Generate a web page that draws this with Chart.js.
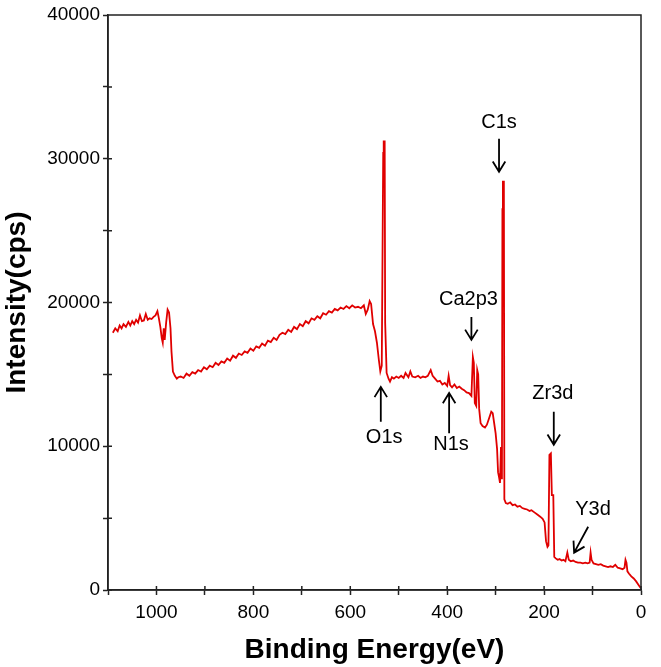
<!DOCTYPE html>
<html>
<head>
<meta charset="utf-8">
<script src="https://cdn.jsdelivr.net/npm/chart.js@4.4.0/dist/chart.umd.min.js"></script>
<style>
  body { margin: 0; background: #fff; }
  #grafica { display: block; }
</style>
</head>
<body>
<canvas id="grafica" width="661" height="667"></canvas>
<script>
// Espectro XPS: energía de enlace (eV) e intensidad (cps)
const energia = [
  1090, 1085, 1080, 1076, 1072, 1068, 1063, 1058, 1054, 1050, 1046, 1042, 1038, 1034, 1030, 1026,
  1022, 1018, 1014, 1010, 1006, 1002, 998, 995, 992, 989, 987, 985, 983, 980, 977, 974, 971, 969,
  966, 962, 958, 955,
  950, 944, 938, 932, 926, 920, 914, 908, 902, 896, 890, 884, 878, 872, 866, 860, 854, 848, 842,
  836, 830, 824, 818, 812, 806, 800, 794, 788, 782, 776, 770, 764, 758, 752, 746, 740, 734, 728,
  722, 716, 710, 704, 698, 692, 686, 680, 674, 668, 662, 656, 650, 644, 638, 632, 626, 620, 614,
  608, 602, 596, 590, 584, 578, 572, 568, 564, 560, 557, 553, 549, 545, 541, 538, 535, 532, 531,
  529, 528, 525, 521, 518,
  514, 510, 505, 500, 495, 490, 486, 480, 476, 472, 466, 460, 455, 450, 445, 440, 434, 430, 425,
  420, 415, 410, 405, 400, 397, 394, 390, 385, 380, 375, 370, 365, 360, 355, 350, 347, 345, 343,
  340, 338, 336, 334, 331, 327, 322, 318, 313, 309, 306, 303, 300, 297, 295, 293, 291, 289, 287,
  286, 285, 283, 282, 279,
  275, 270, 265, 260, 255, 250, 245, 240, 235, 230, 226, 220, 214, 208, 203, 199, 196, 193, 191,
  189, 186, 184, 181, 179, 176, 172, 168, 164, 160, 156, 152, 149, 145, 140, 135, 130, 125, 120,
  115, 110, 106, 104, 102, 98, 93, 88, 83, 78, 73, 68, 63, 58, 53, 48, 43, 38, 34, 32, 30, 28,
  25, 20, 15, 10, 5, 1
];
const intensidad = [
  17900, 18200, 18000, 18400, 18200, 18500, 18300, 18650, 18400, 18700, 18500, 18800, 18600, 19100, 18700, 18750,
  19200, 18800, 18900, 18850, 19000, 19100, 19400, 18900, 18300, 17500, 17200, 18200, 17400, 18600, 19500, 19300, 18200, 16600,
  15200, 14900, 14700, 14800,
  14850, 14750, 15050, 14900, 15150, 15050, 15300, 15200, 15500, 15350, 15600, 15500, 15800, 15650, 15900, 15800, 16100, 15950, 16300,
  16150, 16450, 16350, 16600, 16500, 16800, 16650, 16950, 16850, 17150, 17000, 17350, 17250, 17550, 17400, 17750, 17900, 17800, 18100,
  17950, 18300, 18150, 18500, 18350, 18700, 18550, 18900, 18800, 19050, 18900, 19250, 19150, 19400, 19300, 19550, 19450, 19650, 19550,
  19750, 19600, 19800, 19650, 19700, 19600, 19800, 19200, 19500, 20100, 19900, 18500, 18000, 17200, 16000, 15200, 15600, 30400, 31200,
  31200, 18600, 15100, 14700, 14500,
  14800, 14700, 14850, 14750, 14900, 14750, 15100, 14800, 15200, 14850, 14800, 14900, 14750, 14850, 14800, 14900, 15300, 14900, 14700,
  14500, 14550, 14300, 14400, 14200, 14900, 14250, 14100, 14300, 14050, 14150, 14000, 13900, 13750, 13700, 13500, 16200, 15800, 13000,
  12800, 15300, 15000, 12600, 11600, 11400, 11300, 11500, 12000, 12400, 12300, 11600, 10900, 9800, 8200, 7850, 7450, 9950, 7700,
  26500, 28400, 28400, 6300, 6050,
  6000, 6100, 5900, 5950, 5800, 5850, 5700, 5650, 5600, 5500, 5550, 5400, 5250, 5100, 4950, 4700, 3400, 3000, 3100,
  9400, 9500, 6600, 6600, 2300, 2200, 2100, 2150, 2050, 2100, 2000, 2600, 2100, 2000, 2050, 1950, 1900, 1900, 1850,
  1900, 1850, 1900, 2600, 2100, 1850, 1800, 1750, 1800, 1700, 1650, 1600, 1650, 1600, 1750, 1550, 1500, 1450, 1550, 2100, 1900, 1300,
  1150, 950, 800, 600, 350, 150
];

// Etiquetas de los picos (texto y posición en unidades de los ejes)
const picos = ['C1s', 'Ca2p3', 'O1s', 'N1s', 'Zr3d', 'Y3d'];
const picoE = [293, 356, 530, 392, 182, 99];
const picoI = [32500, 20200, 10600, 10100, 13700, 5570];
// Flechas: desde (E1, I1) hasta la punta (E2, I2)
const flechaE1 = [293, 350, 537, 396, 180, 109];
const flechaI1 = [31400, 19000, 11700, 10900, 12400, 4400];
const flechaE2 = [293, 350, 537, 396, 180, 138];
const flechaI2 = [29100, 17400, 14130, 13700, 10100, 2600];

const fuente = "'Liberation Sans', Arial, sans-serif";
const colorEje = '#222';

// Marco completo, marcas hacia dentro y anotaciones
const pluginExtras = {
  id: 'extras',
  afterDraw(chart) {
    const { ctx, chartArea, scales: { x, y } } = chart;
    ctx.save();
    ctx.strokeStyle = colorEje;
    ctx.lineWidth = 1.5;
    ctx.strokeRect(chartArea.left, chartArea.top, chartArea.right - chartArea.left, chartArea.bottom - chartArea.top);

    // marcas hacia el interior
    ctx.beginPath();
    x.ticks.forEach(t => {
      if (t.value >= 1100) return;
      const px = x.getPixelForValue(t.value);
      ctx.moveTo(px, chartArea.bottom);
      ctx.lineTo(px, chartArea.bottom - 4);
    });
    y.ticks.forEach(t => {
      if (t.value >= 40000) return;
      const py = y.getPixelForValue(t.value);
      ctx.moveTo(chartArea.left, py);
      ctx.lineTo(chartArea.left + 4, py);
    });
    ctx.stroke();

    // textos
    ctx.fillStyle = '#000';
    ctx.font = '20px ' + fuente;
    ctx.textAlign = 'center';
    ctx.textBaseline = 'middle';
    picos.forEach((p, i) => {
      ctx.fillText(p, x.getPixelForValue(picoE[i]), y.getPixelForValue(picoI[i]));
    });

    // flechas
    ctx.strokeStyle = '#000';
    ctx.lineWidth = 1.8;
    picos.forEach((p, i) => {
      const x1 = x.getPixelForValue(flechaE1[i]), y1 = y.getPixelForValue(flechaI1[i]);
      const x2 = x.getPixelForValue(flechaE2[i]), y2 = y.getPixelForValue(flechaI2[i]);
      const ang = Math.atan2(y2 - y1, x2 - x1);
      const largo = 12, abertura = 0.55;
      ctx.beginPath();
      ctx.moveTo(x1, y1);
      ctx.lineTo(x2, y2);
      ctx.moveTo(x2 - largo * Math.cos(ang - abertura), y2 - largo * Math.sin(ang - abertura));
      ctx.lineTo(x2, y2);
      ctx.lineTo(x2 - largo * Math.cos(ang + abertura), y2 - largo * Math.sin(ang + abertura));
      ctx.stroke();
    });
    ctx.restore();
  }
};

const $grafica = document.getElementById('grafica').getContext('2d');

let miGrafica = new Chart($grafica, {
  type: 'line',
  data: {
    datasets: [{
      data: energia.map((e, i) => ({ x: e, y: intensidad[i] })),
      borderColor: '#e00000',
      borderWidth: 1.8,
      pointRadius: 0,
      tension: 0,
      fill: false
    }]
  },
  options: {
    responsive: false,
    animation: false,
    devicePixelRatio: 1,
    layout: { padding: { top: 15, right: 20, left: 0, bottom: 0 } },
    plugins: { legend: { display: false }, tooltip: { enabled: false } },
    scales: {
      x: {
        type: 'linear',
        min: 0,
        max: 1100,
        reverse: true,
        afterFit: s => { s.height = 77; },
        ticks: {
          stepSize: 100,
          autoSkip: false,
          maxRotation: 0,
          padding: 6,
          color: '#000',
          font: { family: fuente, size: 19 },
          callback: v => (v % 200 === 0 && v <= 1000) ? v : ''
        },
        grid: { drawOnChartArea: false, tickLength: 5, color: colorEje, tickWidth: 1.5 },
        border: { color: colorEje, width: 1.5 },
        title: {
          display: true,
          text: 'Binding Energy(eV)',
          color: '#000',
          font: { family: fuente, size: 28, weight: 'bold' },
          padding: { top: 0, bottom: 0 }
        }
      },
      y: {
        min: 0,
        max: 40000,
        afterFit: s => { s.width = 108; },
        ticks: {
          stepSize: 5000,
          autoSkip: false,
          padding: 3,
          color: '#000',
          font: { family: fuente, size: 19 },
          callback: v => (v % 10000 === 0) ? v : ''
        },
        grid: { drawOnChartArea: false, tickLength: 5, color: colorEje, tickWidth: 1.5 },
        border: { color: colorEje, width: 1.5 },
        title: {
          display: true,
          text: 'Intensity(cps)',
          color: '#000',
          font: { family: fuente, size: 28, weight: 'bold' },
          padding: { top: 0, bottom: 0 }
        }
      }
    }
  },
  plugins: [pluginExtras]
});
</script>
</body>
</html>
